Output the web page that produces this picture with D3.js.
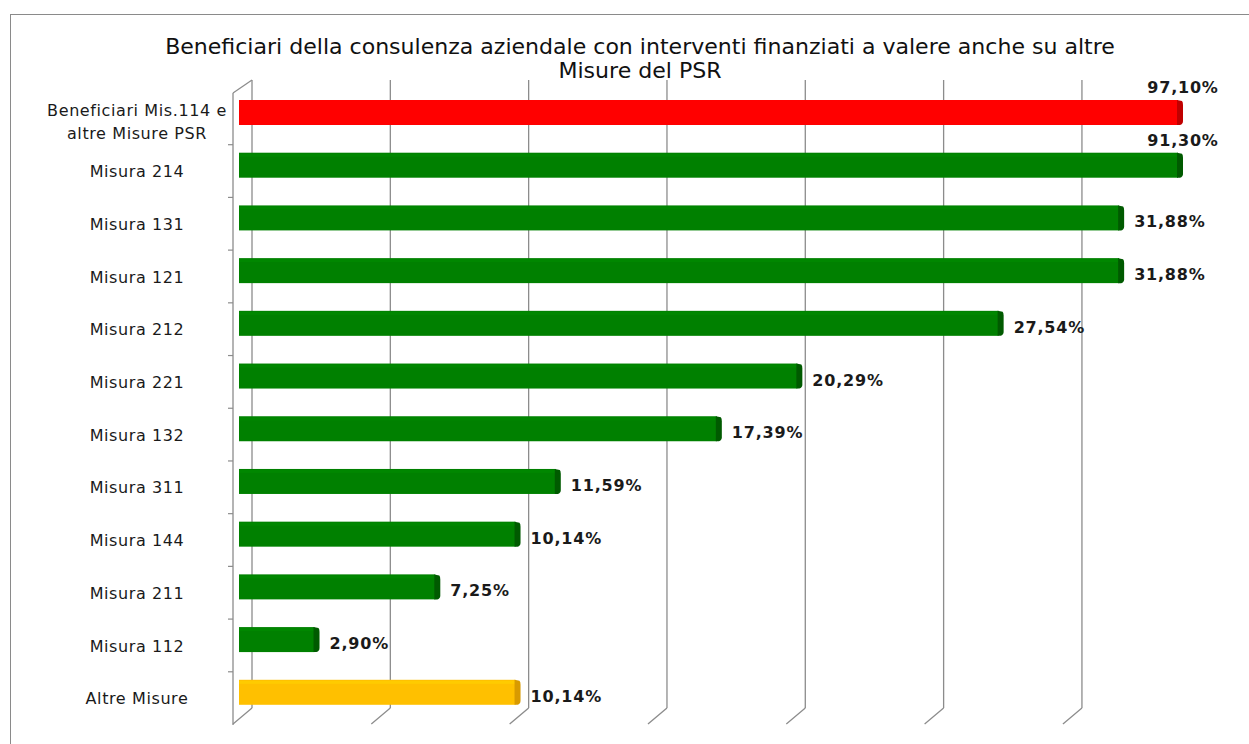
<!DOCTYPE html>
<html><head><meta charset="utf-8">
<script src="https://cdn.jsdelivr.net/npm/d3@7"></script>
<style>body{margin:0;background:#fff}svg{display:block}</style>
</head><body>
<svg id="c" width="1249" height="744"></svg>
<script>
const categories = ["Beneficiari Mis.114 e\naltre Misure PSR","Misura 214","Misura 131","Misura 121","Misura 212","Misura 221","Misura 132","Misura 311","Misura 144","Misura 211","Misura 112","Altre Misure"];
const values = [97.10, 91.30, 31.88, 31.88, 27.54, 20.29, 17.39, 11.59, 10.14, 7.25, 2.90, 10.14];
const labels = ["97,10%","91,30%","31,88%","31,88%","27,54%","20,29%","17,39%","11,59%","10,14%","7,25%","2,90%","10,14%"];
const barColors = ["#ff0000","#008000","#008000","#008000","#008000","#008000","#008000","#008000","#008000","#008000","#008000","#ffc000"];
const sideColors = ["#c00000","#005a00","#005a00","#005a00","#005a00","#005a00","#005a00","#005a00","#005a00","#005a00","#005a00","#d89a00"];
const gridTicks = [0,5,10,15,20,25,30];
const title = ["Beneficiari della consulenza aziendale con interventi finanziati a valere anche su altre","Misure del PSR"];

const FONT = "'DejaVu Sans',Verdana,sans-serif";
const svg = d3.select("#c");

// outer frame
svg.append("rect").attr("x",10.5).attr("y",14.5).attr("width",1260).attr("height",760)
  .attr("fill","#fff").attr("stroke","#8a8a8a").attr("stroke-width",1);

const xMax = 34;
const xFront = d3.scaleLinear().domain([0,xMax]).range([239,1183]).clamp(true);
const dX = 13;
const xBack = v => xFront(v) + dX;
const y = d3.scaleBand().domain(d3.range(categories.length)).range([92,724.5]).paddingInner(0).paddingOuter(0);

// gridlines on back wall + floor diagonals
const g = svg.append("g");
gridTicks.forEach(t=>{
  const xb = xBack(t) - t*0.1;
  g.append("line").attr("x1",xb).attr("x2",xb).attr("y1",80).attr("y2",708)
    .attr("stroke","#8c8c8c").attr("stroke-width",1.3);
  g.append("line").attr("x1",xb).attr("y1",708).attr("x2",xb-19).attr("y2",724)
    .attr("stroke","#8c8c8c").attr("stroke-width",1.3);
});
// front left axis
g.append("line").attr("x1",233).attr("x2",233).attr("y1",93).attr("y2",725).attr("stroke","#8c8c8c").attr("stroke-width",1.3);
g.append("line").attr("x1",233).attr("y1",93).attr("x2",252).attr("y2",80).attr("stroke","#8c8c8c").attr("stroke-width",1.3);
d3.range(1,categories.length).forEach(i=>{
  g.append("line").attr("x1",228).attr("x2",233).attr("y1",y(i)).attr("y2",y(i)).attr("stroke","#8c8c8c").attr("stroke-width",1.2);
});

// bars
const bars = svg.append("g");
values.forEach((v,i)=>{
  const x0 = xFront(0), x1 = xFront(v);
  const top = y(i)+8, h = 25;
  bars.append("rect").attr("x",x0).attr("y",top).attr("width",x1-x0-5).attr("height",h)
    .attr("fill",barColors[i]);
  bars.append("rect").attr("x",x0).attr("y",top+1).attr("width",x1-x0-5).attr("height",3)
    .attr("fill",d3.color(barColors[i]).brighter(0.25)).attr("opacity",0.6);
  bars.append("path")
    .attr("d",`M${x1-6},${top} L${x1-1},${top+1} Q${x1},${top+2} ${x1},${top+5} L${x1},${top+h-4} Q${x1},${top+h-1} ${x1-3},${top+h} L${x1-6},${top+h} Z`)
    .attr("fill",sideColors[i]);
});

// value labels
const lab = svg.append("g").attr("font-family",FONT).attr("font-weight","bold").attr("font-size",16)
  .attr("letter-spacing",0.8).attr("fill","#1a1a1a");
values.forEach((v,i)=>{
  const top = y(i)+8;
  if (v > xMax) {
    lab.append("text").attr("x",xFront(v)).attr("y",top-7).attr("text-anchor","middle").text(labels[i]);
  } else {
    lab.append("text").attr("x",xFront(v)+10).attr("y",top+22).text(labels[i]);
  }
});

// category labels
const cat = svg.append("g").attr("font-family",FONT).attr("font-size",16).attr("letter-spacing",0.6)
  .attr("fill","#1a1a1a").attr("text-anchor","middle");
categories.forEach((c,i)=>{
  const lines = c.split("\n");
  const cy = y(i)+8+12.5+(lines.length>1?10:7);
  lines.forEach((ln,k)=>{
    cat.append("text").attr("x",137).attr("y",cy + (k-(lines.length-1)/2)*23 + 5).text(ln);
  });
});

// title
const tg = svg.append("g").attr("font-family",FONT).attr("fill","#111").attr("text-anchor","middle");
const t1 = tg.append("text").attr("x",640).attr("y",54).attr("font-size",18).text(title[0]);
const w = t1.node().getComputedTextLength();
const fs = 18*950/w;
t1.attr("font-size",fs);
tg.append("text").attr("x",640).attr("y",78).attr("font-size",fs).text(title[1]);
</script>
</body></html>
